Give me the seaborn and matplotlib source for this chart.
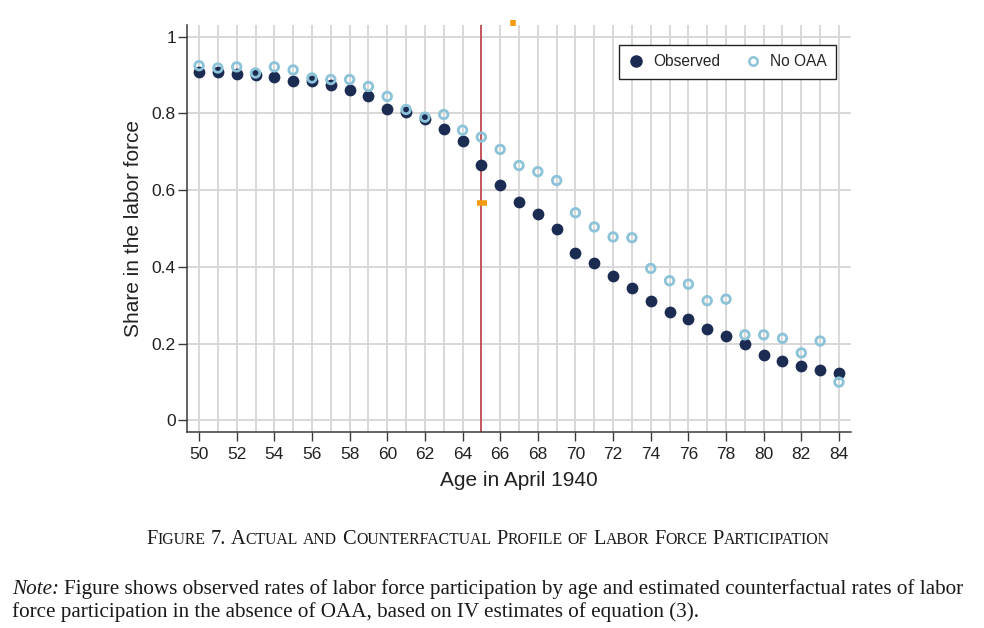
import matplotlib
matplotlib.use("Agg")
import matplotlib.pyplot as plt
import seaborn as sns
from matplotlib.lines import Line2D

# Data
ages = list(range(50, 85))
observed = [0.907, 0.907, 0.903, 0.901, 0.895, 0.885, 0.883, 0.873, 0.860, 0.844,
            0.812, 0.803, 0.786, 0.760, 0.729, 0.665, 0.614, 0.568, 0.538, 0.500,
            0.437, 0.409, 0.377, 0.346, 0.310, 0.283, 0.265, 0.238, 0.221, 0.199,
            0.171, 0.155, 0.143, 0.132, 0.124]
no_oaa = [0.924, 0.918, 0.921, 0.905, 0.921, 0.913, 0.892, 0.888, 0.888, 0.870,
          0.844, 0.810, 0.790, 0.797, 0.756, 0.738, 0.706, 0.664, 0.648, 0.625,
          0.541, 0.504, 0.478, 0.476, 0.396, 0.364, 0.355, 0.312, 0.316, 0.223,
          0.223, 0.214, 0.176, 0.207, 0.100]
cutoff_age = 65
mark_x = [66.7, 65.05]
mark_y = [1.034, 0.567]
y_ticks = [0, 0.2, 0.4, 0.6, 0.8, 1]
y_tick_labels = ["0", "0.2", "0.4", "0.6", "0.8", "1"]

caption = "Figure 7. Actual and Counterfactual Profile of Labor Force Participation"
note_line1 = ("Figure shows observed rates of labor force participation by age and "
              "estimated counterfactual rates of labor")
note_line2 = "force participation in the absence of OAA, based on IV estimates of equation (3)."

DARK = "#1b2b52"
LIGHT = "#8cc3d8"
SERIF = ["Liberation Serif", "DejaVu Serif"]

sns.set_theme(style="whitegrid")
plt.rcParams["font.family"] = ["Liberation Sans", "DejaVu Sans"]

W, H = 984, 628
fig = plt.figure(figsize=(W / 100, H / 100), dpi=100)
ax = fig.add_axes([187 / W, 1 - 432 / H, (851 - 187) / W, (432 - 25) / H])

sns.scatterplot(x=ages, y=observed, ax=ax, color=DARK, s=72,
                edgecolor=DARK, linewidth=0, zorder=3)
sns.scatterplot(x=ages, y=no_oaa, ax=ax, marker="o", s=38,
                facecolors="none", edgecolor=LIGHT, linewidth=2.0, zorder=4)

ax.axvline(cutoff_age, color="#c0323f", lw=1.1, zorder=2)
ax.plot(mark_x[:1], mark_y[:1], marker="|", ms=5, mew=4, color="#f39c12",
        clip_on=False, zorder=5)
ax.plot(mark_x[1:], mark_y[1:], marker="_", ms=7, mew=4, color="#f39c12",
        zorder=5)

ax.set_xlim(49.36, 84.64)
ax.set_ylim(-0.03, 1.03)
ax.set_xticks(range(50, 85, 2))
ax.set_xticks(range(51, 85, 2), minor=True)
ax.set_yticks(y_ticks)
ax.set_yticklabels(y_tick_labels)

ax.grid(True, which="both", axis="x", color="#d6d6d6", lw=1.3)
ax.grid(True, which="major", axis="y", color="#d6d6d6", lw=1.3)
ax.set_axisbelow(True)

for side in ["top", "right"]:
    ax.spines[side].set_visible(False)
for side in ["left", "bottom"]:
    ax.spines[side].set_color("#3a3a3a")
    ax.spines[side].set_linewidth(1.1)

ax.tick_params(axis="both", which="major", direction="out", length=6.5, width=1,
               color="#3a3a3a", labelsize=12.5, labelcolor="#222222",
               left=True, bottom=True)
ax.tick_params(axis="x", which="major", pad=4)
ax.tick_params(axis="y", which="major", pad=1.5)
ax.tick_params(which="minor", length=0)

ax.set_xlabel("Age in April 1940", fontsize=15, color="#222222", labelpad=7)
ax.set_ylabel("Share in the labor force", fontsize=15, color="#222222", labelpad=6)

handles = [
    Line2D([], [], ls="none", marker="o", ms=8, color=DARK, label="Observed"),
    Line2D([], [], ls="none", marker="o", ms=6, mfc="none", mec=LIGHT, mew=1.8,
           label="No OAA"),
]
leg = ax.legend(handles=handles, ncol=2, loc="upper right",
                bbox_to_anchor=(0.977, 0.951), borderaxespad=0, fontsize=11.2,
                frameon=True, fancybox=False, framealpha=1, edgecolor="#222222",
                handlelength=1.0, handletextpad=0.6, columnspacing=1.6,
                borderpad=0.6)
leg.get_frame().set_linewidth(1.0)

# caption in small caps, built from pieces
renderer = fig.canvas.get_renderer()


def text_width(s, size, style="normal"):
    t = fig.text(0, 0, s, fontsize=size, family=SERIF, style=style)
    w = t.get_window_extent(renderer).width
    t.remove()
    return w


def small_caps_words(text, big, small):
    words = []
    for word in text.split(" "):
        runs = []
        for ch in word:
            size = small if ch.islower() else big
            if runs and runs[-1][1] == size:
                runs[-1][0] += ch.upper()
            else:
                runs.append([ch.upper(), size])
        words.append(runs)
    return words


big, small = 14.7, 11.3
words = small_caps_words(caption, big, small)
space = text_width("x x", big) - text_width("xx", big)
total = sum(text_width(s, sz) for w in words for s, sz in w) + space * (len(words) - 1)
x = 488 - total / 2
y_cap = 1 - 544 / H
for w in words:
    for s, sz in w:
        fig.text(x / W, y_cap, s, fontsize=sz, family=SERIF, color="#1a1a1a",
                 va="baseline")
        x += text_width(s, sz)
    x += space

note_size = 15.2
note_space = text_width("x x", note_size) - text_width("xx", note_size)
fig.text(12 / W, 1 - 594 / H, "Note:", fontsize=note_size, family=SERIF,
         style="italic", color="#1a1a1a", va="baseline")
x_note = 12 + text_width("Note:", note_size, "italic") + note_space
fig.text(x_note / W, 1 - 594 / H, note_line1, fontsize=note_size, family=SERIF,
         color="#1a1a1a", va="baseline")
fig.text(12 / W, 1 - 617 / H, note_line2, fontsize=note_size, family=SERIF,
         color="#1a1a1a", va="baseline")

fig.savefig("out.png", dpi=100)
